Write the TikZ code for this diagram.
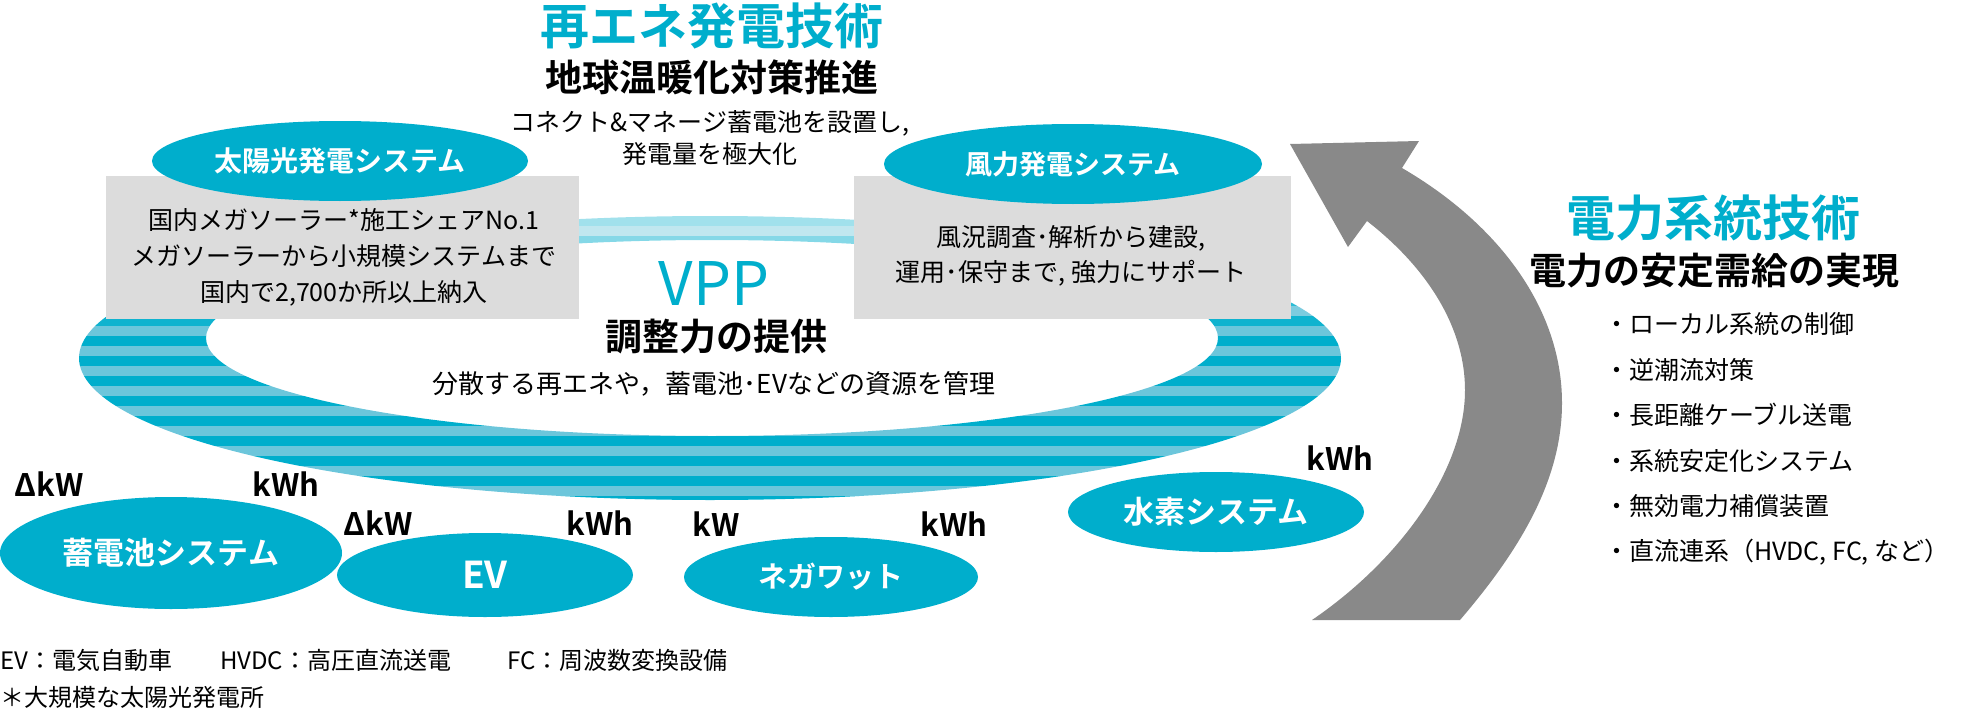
\documentclass[tikz,border=0pt]{standalone}
\usepackage{fontspec}
\setmainfont{Noto Sans CJK JP}[BoldFont={Noto Sans CJK JP Bold}]
\usetikzlibrary{shapes.geometric}

\newcommand{\pxfont}[2]{\fontsize{#1}{#2}\selectfont}

\tikzset{
  every node/.style={inner sep=0pt},
  bodytext/.style={font=\pxfont{25}{36}, align=center},
  titletext/.style={font=\bfseries\pxfont{49}{49}, text=vppblue},
  headtext/.style={font=\bfseries\pxfont{37}{37}},
  loadlabel/.style={font=\bfseries\pxfont{31}{31}},
  notetext/.style={font=\pxfont{24}{24}, anchor=west},
  infobox/.style={fill=boxgray, minimum height=143},
  sysnode/.style={ellipse, fill=vppblue, text=white, font=\bfseries\pxfont{#1}{#1}},
}

\begin{document}
\begin{tikzpicture}[x=1pt, y=-1pt]
\definecolor{vppblue}{RGB}{0,174,204}
\definecolor{stripelight}{RGB}{108,198,219}
\definecolor{boxgray}{RGB}{220,220,220}
\definecolor{arrowgray}{RGB}{137,137,137}
\useasboundingbox (0,0) rectangle (1974,717);

% striped VPP ring
\begin{scope}[even odd rule]
  \clip (710,358) ellipse [x radius=631, y radius=142] (712,338) ellipse [x radius=506, y radius=98];
  \foreach \i in {0,...,29}{
    \pgfmathtruncatemacro{\ytop}{216+10*\i}
    \pgfmathtruncatemacro{\keep}{100-max(0,65*(325-\ytop)/113)}
    \pgfmathtruncatemacro{\isodd}{mod(\i,2)}
    \ifnum\isodd=1 \colorlet{bandcol}{stripelight!\keep!white}\else\colorlet{bandcol}{vppblue!\keep!white}\fi
    \fill[bandcol] (60,\ytop-0.3) rectangle (1360,\ytop+10.3);
  }
\end{scope}

% grey boxes
\node[infobox, minimum width=473] (solarbox) at (342.5,247.5) {};
\node[infobox, minimum width=437] (windbox) at (1072.5,247.5) {};
\node[bodytext] (solartext) at (344,257) {国内メガソーラー*施工シェアNo.1\\メガソーラーから小規模システムまで\\国内で2,700か所以上納入};
\node[bodytext, font=\pxfont{25}{35}] (windtext) at (1071,256) {風況調査･解析から建設,\\運用･保守まで, 強力にサポート};

% generation systems
\node[sysnode=28, minimum width=376, minimum height=80] (solar) at (340,161) {太陽光発電システム};
\node[sysnode=27, minimum width=378, minimum height=80] (wind) at (1073,164) {風力発電システム};

% centre texts
\node[titletext] (retitle) at (712,26) {再エネ発電技術};
\node[headtext] (rehead) at (712,77) {地球温暖化対策推進};
\node[bodytext, font=\pxfont{25}{32}] (renote) at (710,138) {コネクト\&マネージ蓄電池を設置し,\\発電量を極大化};
\node[font=\pxfont{60}{60}, text=vppblue] (vpp) at (714,284) {VPP};
\node[headtext] (vpphead) at (716,337) {調整力の提供};
\node[bodytext, font=\pxfont{26}{26}] (vppnote) at (714,384) {分散する再エネや，蓄電池･EVなどの資源を管理};

% resources
\node[sysnode=31, minimum width=342, minimum height=112] (battery) at (171,553) {蓄電池システム};
\node[sysnode=37, minimum width=296, minimum height=84] (ev) at (485,575) {EV};
\node[sysnode=29, minimum width=294, minimum height=80] (negawatt) at (831,577) {ネガワット};
\node[sysnode=31, minimum width=296, minimum height=80] (hydrogen) at (1216,512) {水素システム};

\node[loadlabel] (battery-dkw) at (49,484) {ΔkW};
\node[loadlabel] (battery-kwh) at (286,484) {kWh};
\node[loadlabel] (ev-dkw) at (378,523) {ΔkW};
\node[loadlabel] (ev-kwh) at (600,523) {kWh};
\node[loadlabel] (negawatt-kw) at (716,524) {kW};
\node[loadlabel] (negawatt-kwh) at (954,524) {kWh};
\node[loadlabel] (hydrogen-kwh) at (1340,458) {kWh};

% grid arrow
\fill[arrowgray] (1312,620) -- (1460,620) .. controls (1520,550) and (1562,480) .. (1562,403)
  .. controls (1562,310) and (1500,225) .. (1402,168) -- (1419,141) -- (1290,144) -- (1348,247) -- (1367,221)
  .. controls (1430,270) and (1465,330) .. (1465,390) .. controls (1465,470) and (1400,560) .. (1312,620) -- cycle;

% grid technology
\node[titletext] (gridtitle) at (1713,218) {電力系統技術};
\node[headtext] (gridhead) at (1714,271) {電力の安定需給の実現};
\foreach \txt [count=\k from 0] in {ローカル系統の制御, 逆潮流対策, 長距離ケーブル送電, 系統安定化システム, 無効電力補償装置, {直流連系（HVDC, FC, など）}}
  \node[bodytext, anchor=west] (bullet\k) at (1604,324+45.6*\k) {・\txt};

% footnotes
\node[notetext] (note-ev) at (0,660) {EV：電気自動車};
\node[notetext] (note-hvdc) at (220,660) {HVDC：高圧直流送電};
\node[notetext] (note-fc) at (507,660) {FC：周波数変換設備};
\node[notetext] (note-mega) at (0,697) {＊大規模な太陽光発電所};

\end{tikzpicture}
\end{document}
